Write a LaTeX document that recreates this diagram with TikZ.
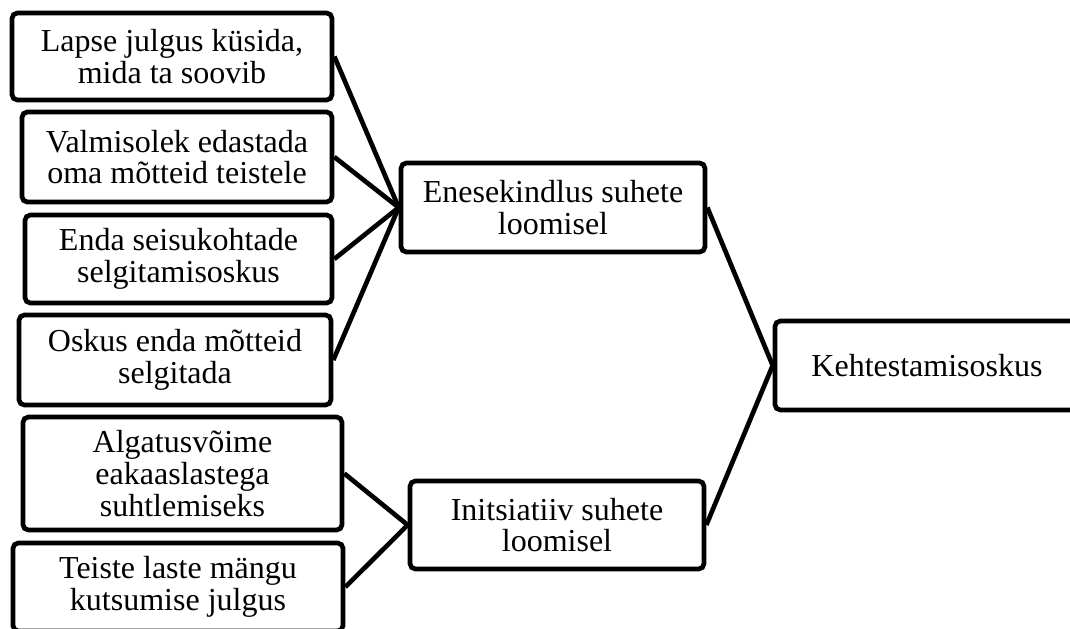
\documentclass[tikz,border=0pt]{standalone}
\usepackage{fontspec}
\setmainfont{Liberation Serif}
\usepackage{tikz}
\usetikzlibrary{positioning}

\begin{document}
\begin{tikzpicture}[
          x=0.75pt,y=-0.75pt,
          mybox/.style={draw,line width=3.5pt,rounded corners=4pt,fill=white,
            inner sep=0pt,align=center,font=\fontsize{24}{23.7}\selectfont},
          myline/.style={line width=3.5pt}
          ]
          \useasboundingbox (0,0) rectangle (1070,628);

          \node[mybox,minimum width=240pt,minimum height=65.25pt] (b1) at (172,56.5)
            {Lapse julgus küsida,\\mida ta soovib};
          \node[mybox,minimum width=232.5pt,minimum height=67.5pt] (b2) at (177,157)
            {Valmisolek edastada\\oma mõtteid teistele};
          \node[mybox,minimum width=230.25pt,minimum height=66pt] (b3) at (178.5,259)
            {Enda seisukohtade\\selgitamisoskus};
          \node[mybox,minimum width=234pt,minimum height=67.5pt] (b4) at (175,360)
            {Oskus enda mõtteid\\selgitada};
          \node[mybox,minimum width=239.25pt,minimum height=84.75pt] (b5) at (182.5,473.5)
            {Algatusvõime\\eakaaslastega\\suhtlemiseks};
          \node[mybox,minimum width=247.5pt,minimum height=66pt] (b6) at (178,587)
            {Teiste laste mängu\\kutsumise julgus};

          \node[mybox,minimum width=228pt,minimum height=66.75pt] (enes) at (553,207.5)
            {Enesekindlus suhete\\loomisel};
          \node[mybox,minimum width=220.5pt,minimum height=66pt] (init) at (557,525)
            {Initsiatiiv suhete\\loomisel};
          \node[mybox,minimum width=228pt,minimum height=66.75pt] (keht) at (927,365.5)
            {Kehtestamisoskus};

          \path (b1.east) edge[myline] (enes.west)
          (b2.east) edge[myline] (enes.west)
          (b3.east) edge[myline] (enes.west)
          (b4.east) edge[myline] (enes.west)
          (b5.east) edge[myline] (init.west)
          (b6.east) edge[myline] (init.west)
          (enes.east) edge[myline] (keht.west)
          (init.east) edge[myline] (keht.west)
          ;
        \end{tikzpicture}
\end{document}
